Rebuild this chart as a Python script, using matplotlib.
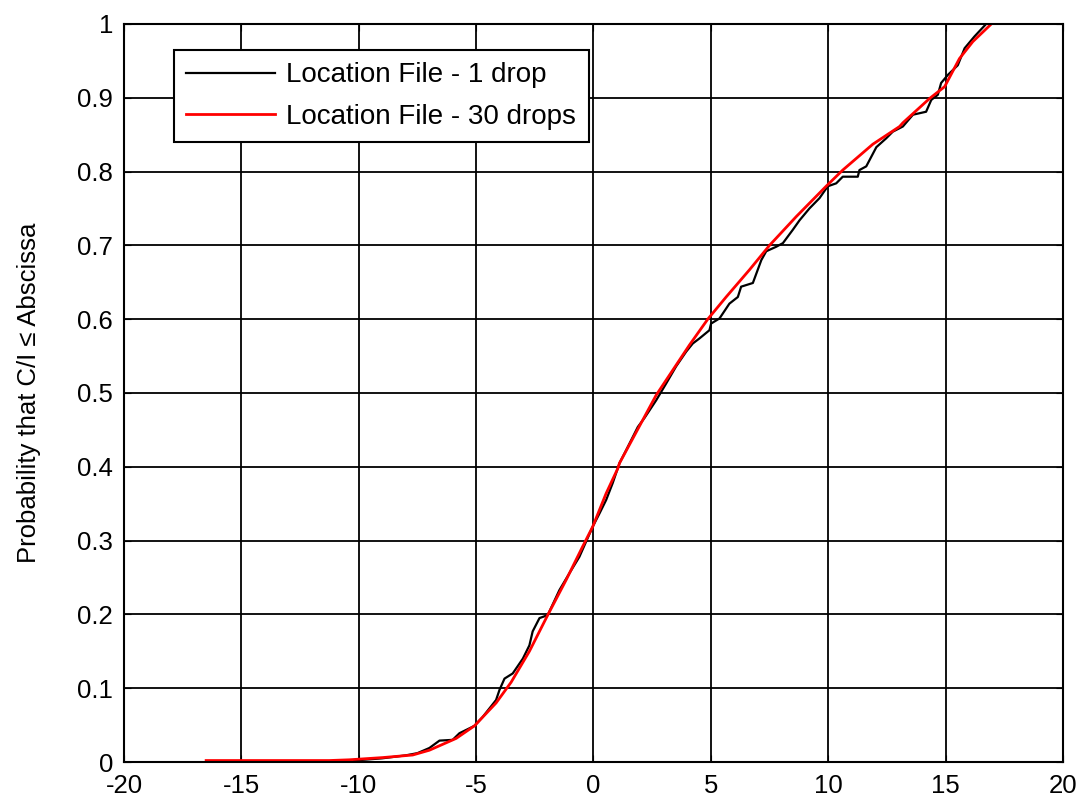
import matplotlib.pyplot as plt
import numpy as np

# C/I [dB] and cumulative probability
one_drop_x = [-10.2, -9.0, -8.0, -7.5, -6.99, -6.56, -6.0, -5.71, -5.07, -4.72,
              -4.15, -4.0, -3.79, -3.44, -3.01, -2.73, -2.59, -2.30, -1.95, -1.45,
              -1.02, -0.60, -0.03, 0.26, 0.54, 0.82, 1.11, 1.32, 1.89, 2.17,
              2.67, 3.10, 3.52, 3.95, 4.23, 4.52, 4.94, 5.01, 5.37, 5.79,
              6.15, 6.29, 6.79, 7.15, 7.36, 7.78, 8.07, 8.49, 8.78, 9.20,
              9.63, 9.98, 10.34, 10.62, 11.26, 11.33, 11.62, 12.05, 12.47, 12.75,
              13.18, 13.61, 14.17, 14.39, 14.67, 14.81, 15.10, 15.52, 15.81, 16.23,
              16.73]
one_drop_p = [0.002, 0.005, 0.009, 0.012, 0.019, 0.029, 0.030, 0.039, 0.049, 0.061,
              0.084, 0.098, 0.113, 0.120, 0.140, 0.158, 0.177, 0.195, 0.199, 0.233,
              0.256, 0.278, 0.319, 0.337, 0.355, 0.378, 0.405, 0.418, 0.454, 0.466,
              0.490, 0.513, 0.536, 0.556, 0.567, 0.574, 0.585, 0.594, 0.601, 0.621,
              0.630, 0.644, 0.649, 0.680, 0.692, 0.698, 0.703, 0.721, 0.734, 0.750,
              0.764, 0.780, 0.784, 0.793, 0.793, 0.802, 0.807, 0.833, 0.845, 0.854,
              0.861, 0.877, 0.881, 0.897, 0.904, 0.920, 0.931, 0.944, 0.967, 0.983,
              1.0]

drops30_x = [-16.5, -11.25, -10.4, -8.98, -7.7, -6.99, -5.85, -5.07, -4.15, -3.51,
             -2.73, -1.95, -1.16, -0.46, -0.03, 0.54, 1.04, 1.11, 2.67, 3.38,
             4.09, 4.87, 5.65, 6.65, 7.50, 8.64, 9.91, 10.62, 11.90, 13.04,
             13.18, 14.32, 14.96, 15.59, 16.16, 16.95]
drops30_p = [0.002, 0.002, 0.003, 0.006, 0.0095, 0.016, 0.032, 0.049, 0.080, 0.108,
             0.150, 0.199, 0.247, 0.292, 0.319, 0.364, 0.398, 0.405, 0.497, 0.531,
             0.565, 0.600, 0.630, 0.667, 0.700, 0.739, 0.780, 0.802, 0.837, 0.861,
             0.866, 0.899, 0.915, 0.953, 0.976, 1.0]

x_ticks = np.arange(-20, 21, 5)
y_ticks = np.arange(0, 1.01, 0.1)
y_tick_labels = ['0', '0.1', '0.2', '0.3', '0.4', '0.5', '0.6', '0.7', '0.8', '0.9', '1']

plt.rcParams['font.family'] = ['Liberation Sans', 'DejaVu Sans']
plt.rcParams['axes.unicode_minus'] = False
fs = 18.5

fig = plt.figure(figsize=(10.82, 7.97), dpi=100)
ax = fig.add_axes([0.1146, 0.0439, 0.8678, 0.9261])

ax.plot(one_drop_x, one_drop_p, color='black', lw=1.6, label='Location File - 1 drop')
ax.plot(drops30_x, drops30_p, color='red', lw=2.0, label='Location File - 30 drops')

ax.set_xlim(-20, 20)
ax.set_ylim(0, 1)
ax.set_xticks(x_ticks)
ax.set_yticks(y_ticks)
ax.set_yticklabels(y_tick_labels)
ax.tick_params(direction='in', top=True, right=True, labelsize=fs, length=5)
ax.tick_params(axis='y', pad=8)
ax.tick_params(axis='x', pad=8.5)
ax.grid(True, color='black', lw=1.3)
for s in ax.spines.values():
    s.set_linewidth(1.5)

ax.set_ylabel('Probability that C/I \u2264 Abscissa', fontsize=fs, labelpad=26)

leg = ax.legend(loc='upper left', bbox_to_anchor=(0.053, 0.965), borderaxespad=0,
                fontsize=20, handlelength=3.2, handletextpad=0.4, fancybox=False,
                framealpha=1, edgecolor='black', borderpad=0.45, labelspacing=0.55)
leg.get_frame().set_linewidth(1.5)

fig.savefig('out.png', dpi=100)
